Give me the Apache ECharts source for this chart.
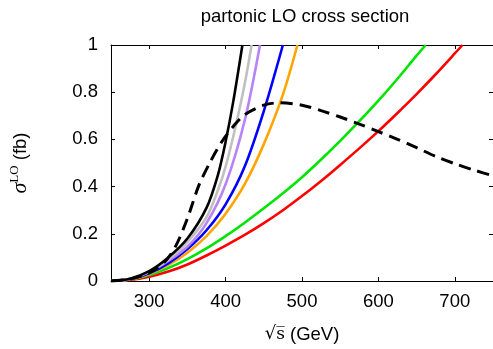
<!DOCTYPE html>
<html>
<head>
<meta charset="utf-8">
<script src="https://cdn.jsdelivr.net/npm/echarts@6/dist/echarts.min.js"></script>
<style>
  html, body { margin: 0; padding: 0; background: #fff; }
  #chart { width: 493px; height: 349px; }
</style>
</head>
<body>
<div id="chart"></div>
<script>
// Partonic LO cross section vs sqrt(s), one curve per parameter point (fb)
const xTicks = [300, 400, 500, 600, 700];
const yTicks = [0, 0.2, 0.4, 0.6, 0.8, 1];

const blackX  = [250, 275, 300, 325, 350, 375, 390, 400, 410, 422];
const blackY  = [0, 0.01, 0.042, 0.1, 0.18, 0.31, 0.45, 0.59, 0.76, 1.0];

const grayX   = [250, 275, 300, 325, 350, 375, 390, 400, 412, 425, 434];
const grayY   = [0, 0.009, 0.04, 0.09, 0.165, 0.27, 0.385, 0.485, 0.64, 0.835, 1.0];

const purpleX = [250, 275, 300, 325, 350, 375, 400, 425, 445];
const purpleY = [0, 0.009, 0.038, 0.085, 0.145, 0.245, 0.41, 0.68, 1.0];

const blueX   = [250, 275, 300, 325, 350, 375, 400, 425, 450, 475];
const blueY   = [0, 0.008, 0.033, 0.075, 0.135, 0.215, 0.325, 0.485, 0.72, 1.0];

const orangeX = [250, 275, 300, 325, 350, 375, 400, 425, 450, 475, 494];
const orangeY = [0, 0.007, 0.03, 0.068, 0.12, 0.19, 0.285, 0.41, 0.58, 0.79, 1.0];

const greenX  = [250, 275, 300, 325, 350, 375, 400, 425, 450, 475, 500, 525, 550, 575, 600, 625, 650, 662];
const greenY  = [0, 0.006, 0.025, 0.055, 0.093, 0.138, 0.19, 0.247, 0.308, 0.372, 0.44, 0.515, 0.594, 0.677, 0.764, 0.857, 0.955, 1.0];

const redX    = [250, 275, 300, 325, 350, 375, 400, 425, 450, 475, 500, 525, 550, 575, 600, 625, 650, 675, 700, 710];
const redY    = [0, 0.004, 0.018, 0.04, 0.07, 0.108, 0.15, 0.195, 0.245, 0.3, 0.36, 0.424, 0.492, 0.562, 0.635, 0.712, 0.792, 0.876, 0.964, 1.0];

const dashX   = [250, 275, 300, 320, 335, 350, 365, 380, 395, 410, 425, 450, 470, 500, 525, 550, 575, 600, 625, 650, 675, 700, 725, 750];
const dashY   = [0, 0.008, 0.035, 0.08, 0.15, 0.265, 0.405, 0.505, 0.59, 0.655, 0.705, 0.745, 0.755, 0.745, 0.722, 0.695, 0.665, 0.633, 0.6, 0.565, 0.528, 0.497, 0.47, 0.446];

const pairs = (xs, ys) => xs.map((x, i) => [x, ys[i]]);

const FONT = 'Liberation Sans';
const FS = 18.5;

function curve(xs, ys, color, extra) {
  return Object.assign({
    type: 'line',
    data: pairs(xs, ys),
    showSymbol: false,
    symbol: 'none',
    smooth: 0.3,
    lineStyle: { color: color, width: 2.6 },
    silent: true
  }, extra || {});
}

const axisLine = { show: true, onZero: false, lineStyle: { color: '#000', width: 1 } };
const tickStyle = { color: '#000', width: 1 };

const option = {
  animation: false,
  backgroundColor: '#fff',
  title: {
    text: 'partonic LO cross section',
    left: 300,
    top: 2,
    textAlign: 'center',
    textStyle: { fontFamily: FONT, fontSize: FS, fontWeight: 'normal', color: '#000' }
  },
  grid: { left: 107, right: -2, top: 45, bottom: 62 },
  xAxis: [
    {
      type: 'value', min: 250, max: 750, position: 'bottom',
      axisLine: axisLine,
      axisTick: { show: true, inside: true, length: 4, customValues: xTicks, lineStyle: tickStyle },
      axisLabel: { customValues: xTicks, margin: 11, fontFamily: FONT, fontSize: FS, color: '#000' },
      splitLine: { show: false },
      name: '{r|\u221A}{s|s\u0305}{t| (GeV)}',
      nameLocation: 'middle',
      nameGap: 44,
      nameTextStyle: {
        rich: {
          r: { fontFamily: 'DejaVu Serif', fontSize: 18, color: '#000' },
          s: { fontFamily: 'DejaVu Serif', fontSize: 17, color: '#000' },
          t: { fontFamily: FONT, fontSize: FS, color: '#000' }
        }
      }
    },
    {
      type: 'value', min: 250, max: 750, position: 'top',
      axisLine: axisLine,
      axisTick: { show: true, inside: true, length: 4, customValues: xTicks, lineStyle: tickStyle },
      axisLabel: { show: false },
      splitLine: { show: false }
    }
  ],
  yAxis: [
    {
      type: 'value', min: 0, max: 1, interval: 0.2, position: 'left',
      axisLine: axisLine,
      axisTick: { show: true, inside: true, length: 4, lineStyle: tickStyle },
      axisLabel: { margin: 13, fontFamily: FONT, fontSize: FS, color: '#000',
        customValues: yTicks },
      splitLine: { show: false },
      name: '{sig|\u03C3}{sup|LO}{t| (fb)}',
      nameLocation: 'middle',
      nameGap: 78,
      nameRotate: 90,
      nameTextStyle: {
        rich: {
          sig: { fontFamily: 'Liberation Serif', fontStyle: 'italic', fontSize: 22, color: '#000' },
          sup: { fontFamily: 'Liberation Serif', fontSize: 13, color: '#000', verticalAlign: 'bottom', padding: [0, 0, 12, 0] },
          t: { fontFamily: FONT, fontSize: FS, color: '#000' }
        }
      }
    },
    {
      type: 'value', min: 0, max: 1, interval: 0.2, position: 'right',
      axisLine: axisLine,
      axisTick: { show: true, inside: true, length: 4, lineStyle: tickStyle },
      axisLabel: { show: false },
      splitLine: { show: false }
    }
  ],
  series: [
    curve(redX, redY, '#ff0000'),
    curve(greenX, greenY, '#00e400'),
    curve(orangeX, orangeY, '#ffa500'),
    curve(blueX, blueY, '#0000ff'),
    curve(purpleX, purpleY, '#b783f7'),
    curve(grayX, grayY, '#c0c0c0'),
    curve(dashX, dashY, '#000', { lineStyle: { color: '#000', width: 3, type: [12, 7] } }),
    curve(blackX, blackY, '#000')
  ]
};

const chart = echarts.init(document.getElementById('chart'), null, { renderer: 'canvas' });
chart.setOption(option);
</script>
</body>
</html>
